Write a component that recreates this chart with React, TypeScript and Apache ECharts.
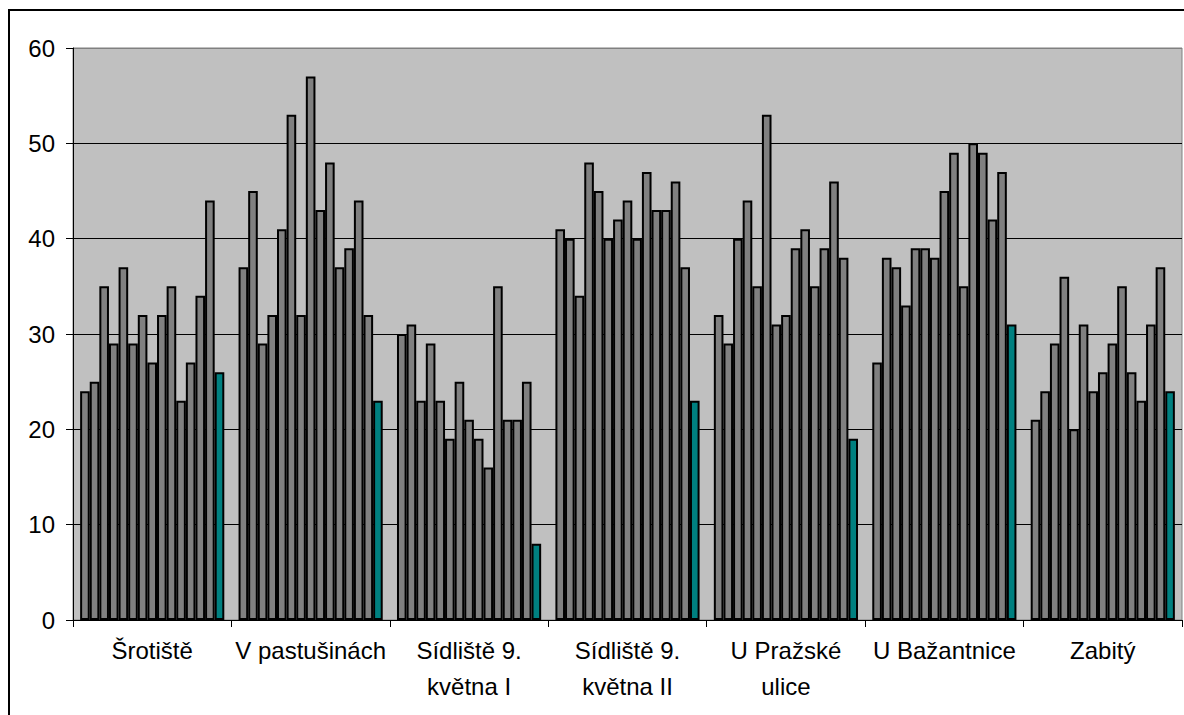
import React, { useEffect, useRef } from "react";
import * as echarts from "echarts";

const categories = [
  "Šrotiště",
  "V pastušinách",
  "Sídliště 9.\nkvětna I",
  "Sídliště 9.\nkvětna II",
  "U Pražské\nulice",
  "U Bažantnice",
  "Zabitý",
];

// 15 values per site: 14 gray bars followed by the teal bar
const srotiste = [24, 25, 35, 29, 37, 29, 32, 27, 32, 35, 23, 27, 34, 44, 26];
const vPastusinach = [37, 45, 29, 32, 41, 53, 32, 57, 43, 48, 37, 39, 44, 32, 23];
const sidliste9I = [30, 31, 23, 29, 23, 19, 25, 21, 19, 16, 35, 21, 21, 25, 8];
const sidliste9II = [41, 40, 34, 48, 45, 40, 42, 44, 40, 47, 43, 43, 46, 37, 23];
const uPrazskeUlice = [32, 29, 40, 44, 35, 53, 31, 32, 39, 41, 35, 39, 46, 38, 19];
const uBazantnice = [27, 38, 37, 33, 39, 39, 38, 45, 49, 35, 50, 49, 42, 47, 31];
const zabity = [21, 24, 29, 36, 20, 31, 24, 26, 29, 35, 26, 23, 31, 37, 24];

const siteValues = [srotiste, vPastusinach, sidliste9I, sidliste9II, uPrazskeUlice, uBazantnice, zabity];

const yTicks = [0, 10, 20, 30, 40, 50, 60];

export default function App() {
  const ref = useRef<HTMLDivElement>(null);

  useEffect(() => {
    if (!ref.current) return;
    const chart = echarts.init(ref.current, undefined, { renderer: "svg" });
    const nSeries = siteValues[0].length;
    const series: any[] = [];
    for (let s = 0; s < nSeries; s++) {
      const isLast = s === nSeries - 1;
      series.push({
        type: "bar",
        name: "S" + (s + 1),
        data: siteValues.map((arr) => arr[s]),
        barGap: "0%",
        barCategoryGap: "9%",
        itemStyle: {
          color: isLast ? "#008080" : "#808080",
          borderColor: "#000000",
          borderWidth: 2,
        },
      });
    }

    chart.setOption({
      animation: false,
      textStyle: { fontFamily: "Arial, 'Liberation Sans', sans-serif" },
      graphic: [
        {
          type: "rect",
          shape: { x: 9, y: 10, width: 1190, height: 720 },
          style: { fill: "none", stroke: "#000000", lineWidth: 2 },
          z: 100,
        },
      ],
      grid: {
        left: 73,
        top: 48,
        width: 1109,
        height: 572,
        show: true,
        backgroundColor: "#C0C0C0",
        borderColor: "#808080",
        borderWidth: 1,
      },
      xAxis: {
        type: "category",
        data: categories,
        axisLine: { show: true, lineStyle: { color: "#000000", width: 1 } },
        axisTick: { show: true, length: 7, lineStyle: { color: "#000000" } },
        axisLabel: {
          interval: 0,
          color: "#000000",
          fontSize: 24,
          lineHeight: 36,
          margin: 12,
          fontFamily: "Arial, 'Liberation Sans', sans-serif",
        },
        splitLine: { show: false },
      },
      yAxis: {
        type: "value",
        min: yTicks[0],
        max: yTicks[yTicks.length - 1],
        interval: 10,
        axisLine: { show: true, lineStyle: { color: "#000000", width: 1 } },
        axisTick: { show: true, length: 7, lineStyle: { color: "#000000" } },
        axisLabel: {
          color: "#000000",
          fontSize: 24,
          margin: 18,
          fontFamily: "Arial, 'Liberation Sans', sans-serif",
        },
        splitLine: {
          show: true,
          lineStyle: {
            color: ["#000000", "#000000", "#000000", "#000000", "#000000", "#000000", "#808080"],
            width: 1,
          },
        },
      },
      series,
    });
    return () => chart.dispose();
  }, []);

  return (
    <div
      ref={ref}
      style={{ position: "absolute", left: 0, top: 0, width: 1184, height: 715, background: "#ffffff" }}
    />
  );
}
